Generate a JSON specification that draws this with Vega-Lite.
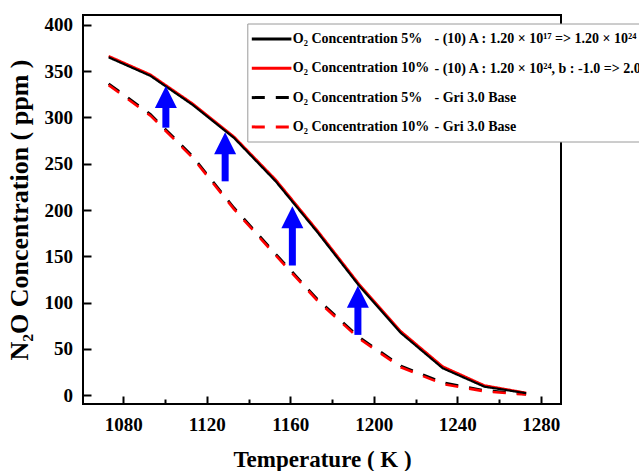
{
  "$schema": "https://vega.github.io/schema/vega-lite/v6.json",
  "width": 478,
  "height": 389,
  "autosize": {"type": "none"},
  "padding": {"left": 83, "top": 15, "right": 78, "bottom": 67},
  "background": "white",
  "config": {
    "view": {"stroke": "black", "strokeWidth": 2},
    "font": "Liberation Serif"
  },
  "layer": [
    {
      "data": {
        "values": [
          {"s": "a", "T": 1073, "v": 365}, {"s": "a", "T": 1093, "v": 345}, {"s": "a", "T": 1113, "v": 314}, {"s": "a", "T": 1133, "v": 278}, {"s": "a", "T": 1153, "v": 231}, {"s": "a", "T": 1173, "v": 176}, {"s": "a", "T": 1193, "v": 118}, {"s": "a", "T": 1213, "v": 67}, {"s": "a", "T": 1233, "v": 29}, {"s": "a", "T": 1253, "v": 9}, {"s": "a", "T": 1273, "v": 2},
          {"s": "b", "T": 1073, "v": 366.5}, {"s": "b", "T": 1093, "v": 346.5}, {"s": "b", "T": 1113, "v": 315.5}, {"s": "b", "T": 1133, "v": 279.5}, {"s": "b", "T": 1153, "v": 233}, {"s": "b", "T": 1173, "v": 178}, {"s": "b", "T": 1193, "v": 120}, {"s": "b", "T": 1213, "v": 69}, {"s": "b", "T": 1233, "v": 31}, {"s": "b", "T": 1253, "v": 10.5}, {"s": "b", "T": 1273, "v": 2.5},
          {"s": "c", "T": 1073, "v": 336.5}, {"s": "c", "T": 1093, "v": 303.5}, {"s": "c", "T": 1113, "v": 258.5}, {"s": "c", "T": 1133, "v": 202.5}, {"s": "c", "T": 1153, "v": 152.5}, {"s": "c", "T": 1173, "v": 103.5}, {"s": "c", "T": 1193, "v": 62.5}, {"s": "c", "T": 1213, "v": 31.5}, {"s": "c", "T": 1233, "v": 13.5}, {"s": "c", "T": 1253, "v": 5}, {"s": "c", "T": 1273, "v": 1},
          {"s": "d", "T": 1073, "v": 335}, {"s": "d", "T": 1093, "v": 302}, {"s": "d", "T": 1113, "v": 257}, {"s": "d", "T": 1133, "v": 201}, {"s": "d", "T": 1153, "v": 151}, {"s": "d", "T": 1173, "v": 102}, {"s": "d", "T": 1193, "v": 61}, {"s": "d", "T": 1213, "v": 30}, {"s": "d", "T": 1233, "v": 12}, {"s": "d", "T": 1253, "v": 4}, {"s": "d", "T": 1273, "v": 0.5}
        ]
      },
      "encoding": {
        "x": {
          "field": "T", "type": "quantitative",
          "scale": {"domain": [1060.7, 1289.7], "nice": false, "zero": false},
          "axis": {
            "title": "Temperature ( K )",
            "values": [1080, 1100, 1120, 1140, 1160, 1180, 1200, 1220, 1240, 1260, 1280],
            "format": "d",
            "labelExpr": "datum.value % 40 == 0 ? datum.label : ''",
            "tickSize": {"condition": {"test": "datum.value % 40 == 0", "value": -8}, "value": -5},
            "tickWidth": 2, "tickColor": "black", "domain": false, "grid": false,
            "labelFont": "Liberation Serif", "labelFontSize": 19, "labelFontWeight": "bold", "labelColor": "black",
            "labelPadding": 19, "labelOverlap": false,
            "titleFont": "Liberation Serif", "titleFontSize": 23, "titleFontWeight": "bold", "titleColor": "black", "titlePadding": 11
          }
        },
        "y": {
          "field": "v", "type": "quantitative",
          "scale": {"domain": [-9.7, 410.8], "nice": false, "zero": false},
          "axis": {
            "title": "N₂O Concentration ( ppm )",
            "values": [0, 25, 50, 75, 100, 125, 150, 175, 200, 225, 250, 275, 300, 325, 350, 375, 400],
            "format": "d",
            "labelExpr": "datum.value % 50 == 0 ? datum.label : ''",
            "tickSize": {"condition": {"test": "datum.value % 50 == 0", "value": -8}, "value": -5},
            "tickWidth": 2, "tickColor": "black", "domain": false, "grid": false,
            "labelFont": "Liberation Serif", "labelFontSize": 19, "labelFontWeight": "bold", "labelColor": "black",
            "labelPadding": 18.5, "labelOverlap": false,
            "titleFont": "Liberation Serif", "titleFontSize": 26, "titleFontWeight": "bold", "titleColor": "black", "titlePadding": 12
          }
        },
        "color": {
          "field": "s", "type": "nominal",
          "scale": {"domain": ["a", "b", "c", "d"], "range": ["#000000", "#ff0000", "#000000", "#ff0000"]},
          "legend": {
            "orient": "none", "legendX": 164.3, "legendY": 8.5, "title": null,
            "symbolType": "M-1,0H2.6", "symbolSize": 484, "symbolStrokeWidth": 3,
            "labelFont": "Liberation Serif", "labelFontWeight": "bold", "labelFontSize": 14, "labelColor": "black",
            "labelOffset": 17.5, "rowPadding": 9.3, "padding": 3, "labelLimit": 600, "zindex": 2,
            "labelExpr": "datum.value == 'a' || datum.value == 'c' ? 'O₂ Concentration 5%' : 'O₂ Concentration 10%'"
          }
        },
        "strokeDash": {
          "field": "s", "type": "nominal",
          "scale": {"domain": ["a", "b", "c", "d"], "range": [[1, 0], [1, 0], [13, 11], [13, 11]]},
          "legend": {
            "orient": "none", "legendX": 164.3, "legendY": 8.5, "title": null,
            "symbolType": "M-1,0H2.6", "symbolSize": 484, "symbolStrokeWidth": 3,
            "labelFont": "Liberation Serif", "labelFontWeight": "bold", "labelFontSize": 14, "labelColor": "black",
            "labelOffset": 17.5, "rowPadding": 9.3, "padding": 3, "labelLimit": 600, "zindex": 2,
            "labelExpr": "datum.value == 'a' || datum.value == 'c' ? 'O₂ Concentration 5%' : 'O₂ Concentration 10%'"
          }
        }
      },
      "layer": [
        {"transform": [{"filter": "datum.s == 'c'"}], "mark": {"type": "line", "strokeWidth": 2.6}},
        {"transform": [{"filter": "datum.s == 'd'"}], "mark": {"type": "line", "strokeWidth": 2.6}},
        {"transform": [{"filter": "datum.s == 'b'"}], "mark": {"type": "line", "strokeWidth": 2.2}},
        {"transform": [{"filter": "datum.s == 'a'"}], "mark": {"type": "line", "strokeWidth": 2.2}}
      ]
    },
    {
      "data": {
        "values": [
          {"T": 1100.4, "tail": 289, "tip": 334},
          {"T": 1128.8, "tail": 231, "tip": 284},
          {"T": 1161, "tail": 140, "tip": 204},
          {"T": 1192.4, "tail": 65, "tip": 118}
        ]
      },
      "layer": [
        {
          "mark": {"type": "rule", "color": "#0000ff", "strokeWidth": 7, "y2Offset": 14},
          "encoding": {
            "x": {"field": "T", "type": "quantitative", "scale": {"domain": [1060.7, 1289.7], "nice": false, "zero": false}},
            "y": {"field": "tail", "type": "quantitative", "scale": {"domain": [-9.7, 410.8], "nice": false, "zero": false}},
            "y2": {"field": "tip"}
          }
        },
        {
          "mark": {"type": "point", "shape": "M0,0L1,2L-1,2Z", "size": 484, "filled": true, "color": "#0000ff", "opacity": 1, "strokeWidth": 0},
          "encoding": {
            "x": {"field": "T", "type": "quantitative", "scale": {"domain": [1060.7, 1289.7], "nice": false, "zero": false}},
            "y": {"field": "tip", "type": "quantitative", "scale": {"domain": [-9.7, 410.8], "nice": false, "zero": false}}
          }
        }
      ]
    },
    {
      "data": {"values": [{"n": "n1"}, {"n": "n2"}, {"n": "n3"}, {"n": "n4"}]},
      "mark": {"type": "point", "opacity": 0},
      "encoding": {
        "shape": {
          "field": "n", "type": "nominal",
          "scale": {"domain": ["n1", "n2", "n3", "n4"]},
          "legend": {
            "orient": "none", "legendX": 164.3, "legendY": 8.5, "title": null,
            "symbolSize": 484, "symbolOpacity": 0, "symbolStrokeWidth": 3,
            "labelFont": "Liberation Serif", "labelFontWeight": "bold", "labelFontSize": 14,
            "labelOffset": 159.2, "rowPadding": 5.7, "padding": 3, "labelLimit": 1000,
            "strokeColor": "#9a9a9a", "fillColor": "white", "zindex": 1,
            "labelExpr": "datum.value == 'n1' ? '\u00a0- (10) A : 1.20 × 10¹⁷ => 1.20 × 10²⁴' : datum.value == 'n2' ? '- (10) A : 1.20 × 10²⁴, b : -1.0 => 2.0' : datum.value == 'n3' ? '\u00a0- Gri 3.0 Base' : '- Gri 3.0 Base'",
            "encode": {"labels": {"update": {"fill": {"signal": "datum.value == 'n3' || datum.value == 'n4' ? '#000000' : '#ee1c1c'"}}}}
          }
        }
      }
    }
  ]
}
